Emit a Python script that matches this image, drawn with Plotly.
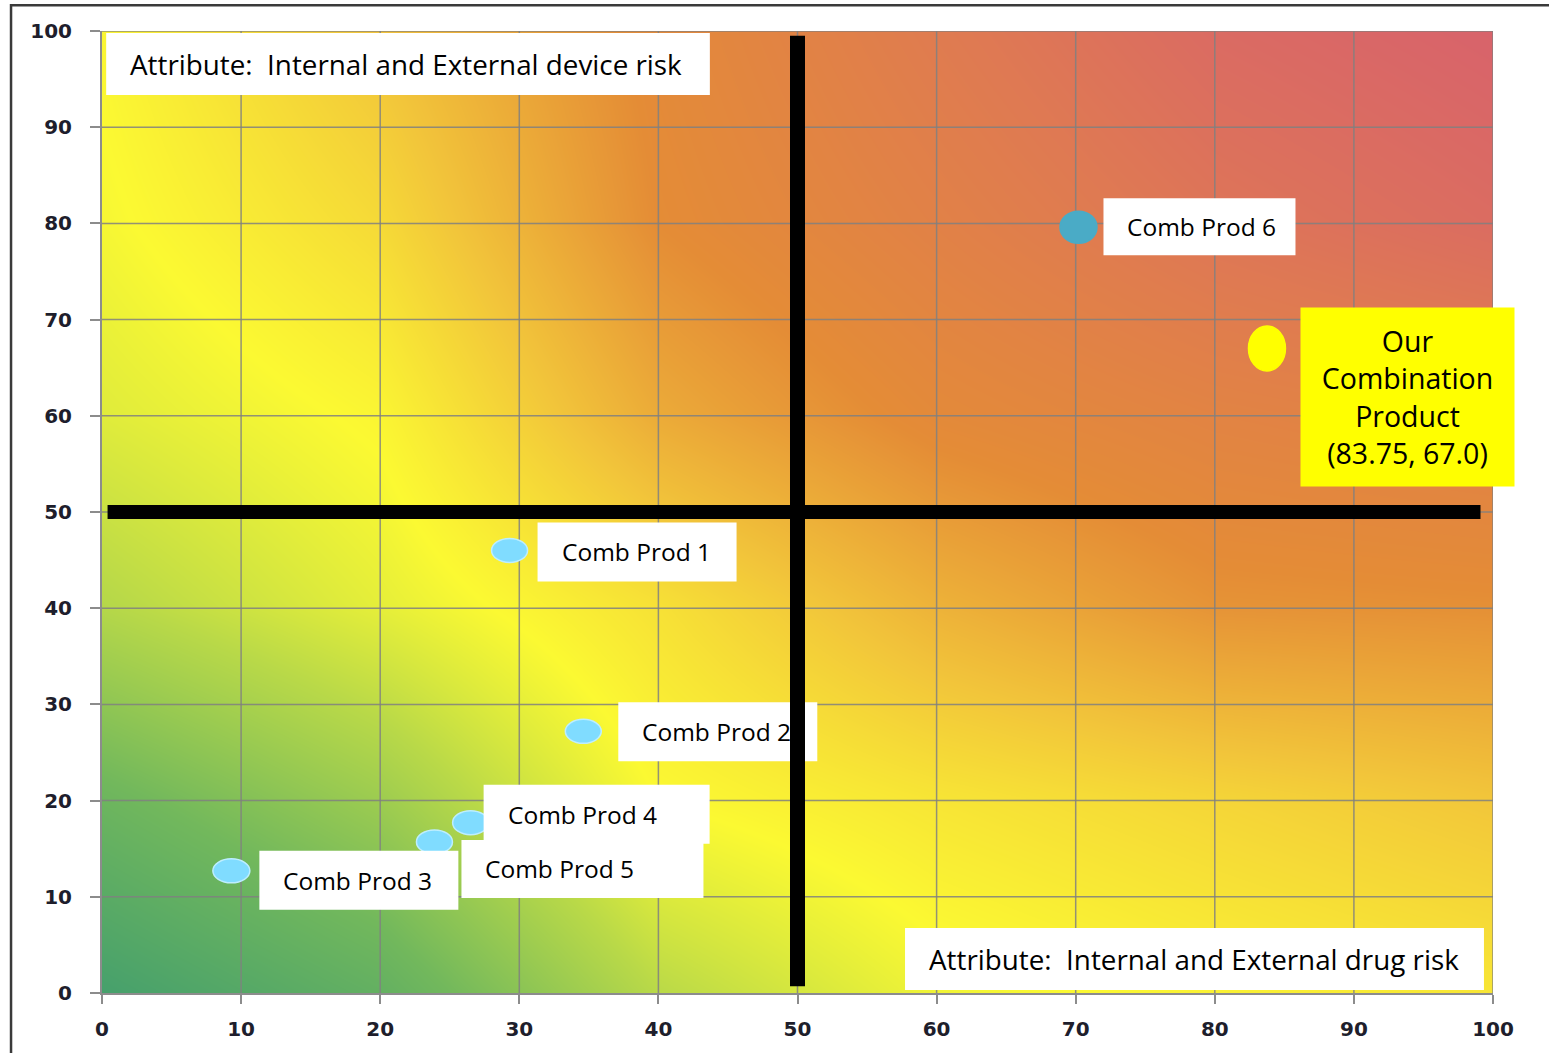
import plotly.graph_objects as go

# ---- data -------------------------------------------------------------
products = ["Comb Prod 1", "Comb Prod 2", "Comb Prod 3", "Comb Prod 4",
            "Comb Prod 5", "Comb Prod 6", "Our Combination Product"]
drug_risk = [29.3, 34.6, 9.3, 26.5, 23.9, 70.2, 83.75]      # x: internal/external drug risk
device_risk = [46.0, 27.2, 12.7, 17.7, 15.7, 79.6, 67.0]    # y: internal/external device risk
point_labels = ["Comb Prod 1", "Comb Prod 2", "Comb Prod 3", "Comb Prod 4",
                "Comb Prod 5", "Comb Prod 6",
                "Our<br>Combination<br>Product<br>(83.75, 67.0)"]

axis_ticks = list(range(0, 101, 10))
threshold_drug = 50
threshold_device = 50

x_attribute = "Attribute:\u00a0 Internal and External drug risk"
y_attribute = "Attribute:\u00a0 Internal and External device risk"

# ---- background risk field (green = low, red = high) ------------------
field_x = [0, 20, 40, 60, 80, 100]
field_y = [0, 20, 40, 60, 80, 100]
field_level = [
    [0.00, 0.10, 0.30, 0.40, 0.44, 0.47],
    [0.13, 0.24, 0.42, 0.47, 0.51, 0.55],
    [0.29, 0.38, 0.48, 0.60, 0.68, 0.69],
    [0.37, 0.43, 0.62, 0.72, 0.77, 0.80],
    [0.41, 0.50, 0.70, 0.79, 0.88, 0.94],
    [0.43, 0.56, 0.72, 0.84, 0.95, 1.00],
]
risk_colors = [
    [0.00, "#46a06c"],
    [0.15, "#72b85c"],
    [0.30, "#b9d948"],
    [0.42, "#fbf932"],
    [0.55, "#f2c63a"],
    [0.70, "#e48c36"],
    [0.85, "#df7a52"],
    [1.00, "#d8636b"],
]

# ---- styling ----------------------------------------------------------
marker_fill = ["#80dcff"] * 5 + ["#4aabc6", "#ffff00"]
marker_edge = ["#bdeeff"] * 5 + ["#4aabc6", "#ffff00"]
marker_w = [36, 36, 37, 36, 36, 37, 37]
marker_h = [24, 24, 24, 24, 24, 32, 45]
# label box offsets from each point, in pixels: (left, right, bottom, top)
box_offsets = [(28, 227, -31, 28), (35, 234, -30, 29), (28, 227, -39, 20),
               (13, 239, -21, 38), (27, 269, -56, 2), (25, 217, -28, 29),
               (33, 246, -138, 40)]
label_pad = 22

grid_color = "rgba(128,128,128,0.85)"
axis_color = "#8c8c8c"
text_font = "Open Sans"

fig = go.Figure()

fig.add_trace(go.Heatmap(
    x=field_x, y=field_y, z=field_level, colorscale=risk_colors,
    zmin=0, zmax=1, zsmooth="best", showscale=False, hoverinfo="skip",
))

# grid drawn over the coloured field
gx, gy = [], []
for v in axis_ticks[1:]:
    gx += [v, v, None]
    gy += [0, 100, None]
    gx += [0, 100, None]
    gy += [v, v, None]
fig.add_trace(go.Scatter(x=gx, y=gy, mode="lines", hoverinfo="skip",
                         line=dict(color=grid_color, width=1.5), showlegend=False))

# hover targets for the products
fig.add_trace(go.Scatter(x=drug_risk, y=device_risk, mode="markers",
                         marker=dict(size=30, opacity=0), text=products,
                         hovertemplate="%{text}<br>(%{x}, %{y})<extra></extra>",
                         showlegend=False))

shapes = []
annotations = []
n_comb = len(products) - 1

# product markers (ellipses anchored to the data values)
for i in range(len(products)):
    shapes.append(dict(
        type="circle", xref="x", yref="y", layer="above",
        xsizemode="pixel", ysizemode="pixel",
        xanchor=drug_risk[i], yanchor=device_risk[i],
        x0=-marker_w[i] / 2, x1=marker_w[i] / 2,
        y0=-marker_h[i] / 2, y1=marker_h[i] / 2,
        fillcolor=marker_fill[i], line=dict(color=marker_edge[i], width=1.5),
    ))

# white label boxes for the comparison products
for i in range(n_comb):
    l, r, b, t = box_offsets[i]
    shapes.append(dict(
        type="rect", xref="x", yref="y", layer="above",
        xsizemode="pixel", ysizemode="pixel",
        xanchor=drug_risk[i], yanchor=device_risk[i],
        x0=l, x1=r, y0=b, y1=t,
        fillcolor="white", line=dict(width=0),
    ))
    annotations.append(dict(
        x=drug_risk[i], y=device_risk[i], xref="x", yref="y",
        text=point_labels[i], showarrow=False,
        xanchor="left", yanchor="middle",
        xshift=l + label_pad, yshift=(b + t) / 2,
        font=dict(family=text_font, size=24.5, color="black"),
    ))

# highlighted label for our product
l, r, b, t = box_offsets[-1]
annotations.append(dict(
    x=drug_risk[-1], y=device_risk[-1], xref="x", yref="y",
    text=point_labels[-1], showarrow=False,
    xanchor="left", yanchor="middle",
    xshift=l, yshift=(b + t) / 2,
    width=r - l, height=t - b, borderpad=0,
    bgcolor="#ffff00", align="center", valign="middle",
    font=dict(family=text_font, size=28.5, color="black"),
))

# attribute captions
shapes.append(dict(type="rect", xref="paper", yref="paper", layer="above",
                   x0=0.003, x1=0.437, y0=0.9335, y1=0.998,
                   fillcolor="white", line=dict(width=0)))
annotations.append(dict(x=0.003, y=0.966, xref="paper", yref="paper",
                        text=y_attribute, showarrow=False,
                        xanchor="left", yanchor="middle", xshift=label_pad,
                        font=dict(family=text_font, size=27.8, color="black")))
shapes.append(dict(type="rect", xref="paper", yref="paper", layer="above",
                   x0=0.5773, x1=0.9935, y0=0.003, y1=0.0676,
                   fillcolor="white", line=dict(width=0)))
annotations.append(dict(x=0.5773, y=0.0353, xref="paper", yref="paper",
                        text=x_attribute, showarrow=False,
                        xanchor="left", yanchor="middle", xshift=label_pad,
                        font=dict(family=text_font, size=27.8, color="black")))

# quadrant dividers
shapes.append(dict(type="line", xref="x", yref="y", layer="above",
                   x0=threshold_drug, x1=threshold_drug, y0=0.7, y1=99.5,
                   line=dict(color="black", width=15)))
shapes.append(dict(type="line", xref="x", yref="y", layer="above",
                   x0=0.4, x1=99.1, y0=threshold_device, y1=threshold_device,
                   line=dict(color="black", width=14)))

# outer frame around the figure
shapes.append(dict(type="rect", xref="paper", yref="paper", layer="above",
                   x0=-0.0654, x1=1.06, y0=-0.09, y1=1.0267,
                   line=dict(color="#3a3a3a", width=2.5)))

tick_font = dict(family="DejaVu Sans", size=20, color="#1e1e2c", weight="bold")
axis_common = dict(
    range=[0, 100], tickvals=axis_ticks, showgrid=False, zeroline=False,
    showline=True, linecolor=axis_color, linewidth=2, mirror=False,
    ticks="outside", tickcolor=axis_color, tickwidth=2,
    tickfont=tick_font, fixedrange=True,
)

fig.update_layout(
    width=1549, height=1053,
    margin=dict(l=102, r=56, t=31, b=60),
    paper_bgcolor="white", plot_bgcolor="white",
    showlegend=False,
    xaxis=dict(**axis_common, ticklen=9, ticklabelstandoff=8),
    yaxis=dict(**axis_common, ticklen=10, ticklabelstandoff=14),
    shapes=shapes,
    annotations=annotations,
)

fig.write_html("out.html")
